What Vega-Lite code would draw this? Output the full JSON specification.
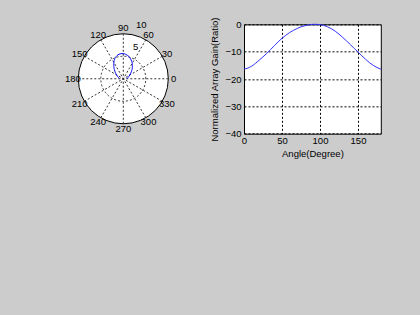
{
  "$schema": "https://vega.github.io/schema/vega-lite/v6.json",
  "background": "#cccccc",
  "padding": {"left": 0, "top": 0, "right": 80, "bottom": 200},
  "autosize": {"type": "pad"},
  "spacing": 30,
  "bounds": "flush",
  "center": true,
  "datasets": {
    "gain": [
      {"a": 0, "g": -16.4, "gx": 0.848, "gy": 0},
      {"a": 5, "g": -16.0, "gx": 0.884, "gy": 0.077},
      {"a": 10, "g": -15.3, "gx": 0.947, "gy": 0.167},
      {"a": 15, "g": -14.3, "gx": 1.043, "gy": 0.279},
      {"a": 20, "g": -13.1, "gx": 1.165, "gy": 0.424},
      {"a": 25, "g": -11.9, "gx": 1.290, "gy": 0.601},
      {"a": 30, "g": -10.6, "gx": 1.431, "gy": 0.826},
      {"a": 35, "g": -9.2, "gx": 1.591, "gy": 1.114},
      {"a": 40, "g": -7.8, "gx": 1.748, "gy": 1.466},
      {"a": 45, "g": -6.4, "gx": 1.895, "gy": 1.895},
      {"a": 50, "g": -5.1, "gx": 2.001, "gy": 2.385},
      {"a": 55, "g": -4.0, "gx": 2.027, "gy": 2.894},
      {"a": 60, "g": -3.0, "gx": 1.982, "gy": 3.433},
      {"a": 65, "g": -2.2, "gx": 1.837, "gy": 3.940},
      {"a": 70, "g": -1.5, "gx": 1.612, "gy": 4.428},
      {"a": 75, "g": -0.9, "gx": 1.307, "gy": 4.877},
      {"a": 80, "g": -0.5, "gx": 0.918, "gy": 5.207},
      {"a": 85, "g": -0.2, "gx": 0.477, "gy": 5.451},
      {"a": 90, "g": 0, "gx": 0, "gy": 5.6},
      {"a": 95, "g": 0, "gx": -0.488, "gy": 5.579},
      {"a": 100, "g": -0.1, "gx": -0.961, "gy": 5.452},
      {"a": 105, "g": -0.4, "gx": -1.384, "gy": 5.166},
      {"a": 110, "g": -0.9, "gx": -1.727, "gy": 4.745},
      {"a": 115, "g": -1.6, "gx": -1.969, "gy": 4.222},
      {"a": 120, "g": -2.5, "gx": -2.100, "gy": 3.637},
      {"a": 125, "g": -3.6, "gx": -2.122, "gy": 3.031},
      {"a": 130, "g": -4.8, "gx": -2.071, "gy": 2.468},
      {"a": 135, "g": -6.1, "gx": -1.962, "gy": 1.962},
      {"a": 140, "g": -7.4, "gx": -1.830, "gy": 1.536},
      {"a": 145, "g": -8.8, "gx": -1.665, "gy": 1.166},
      {"a": 150, "g": -10.1, "gx": -1.516, "gy": 0.875},
      {"a": 155, "g": -11.5, "gx": -1.351, "gy": 0.630},
      {"a": 160, "g": -12.8, "gx": -1.205, "gy": 0.439},
      {"a": 165, "g": -14.0, "gx": -1.079, "gy": 0.289},
      {"a": 170, "g": -15.0, "gx": -0.981, "gy": 0.173},
      {"a": 175, "g": -15.8, "gx": -0.905, "gy": 0.079},
      {"a": 180, "g": -16.4, "gx": -0.848, "gy": 0}
    ],
    "rings": [
      {"r": 5, "t0": 0, "t1": 360},
      {"r": 10, "t0": 0, "t1": 360}
    ],
    "spokes": [
      {"x1": 8.660, "y1": 5, "x2": -8.660, "y2": -5},
      {"x1": 5, "y1": 8.660, "x2": -5, "y2": -8.660},
      {"x1": 0, "y1": 10, "x2": 0, "y2": -10},
      {"x1": -5, "y1": 8.660, "x2": 5, "y2": -8.660},
      {"x1": -8.660, "y1": 5, "x2": 8.660, "y2": -5},
      {"x1": -10, "y1": 0, "x2": 10, "y2": 0}
    ],
    "angles": [
      {"a": 0, "lab": "0"}, {"a": 30, "lab": "30"}, {"a": 60, "lab": "60"},
      {"a": 90, "lab": "90"}, {"a": 120, "lab": "120"}, {"a": 150, "lab": "150"},
      {"a": 180, "lab": "180"}, {"a": 210, "lab": "210"}, {"a": 240, "lab": "240"},
      {"a": 270, "lab": "270"}, {"a": 300, "lab": "300"}, {"a": 330, "lab": "330"}
    ]
  },
  "hconcat": [
    {
      "width": 213.3,
      "height": 157.05,
      "view": {"stroke": null},
      "layer": [
        {
          "data": {"name": "rings"},
          "transform": [{"filter": "datum.r == 10"}],
          "mark": {"type": "arc", "fill": "white", "stroke": "black", "strokeWidth": 1},
          "encoding": {
            "x": {"datum": 0, "type": "quantitative", "scale": {"domain": [-27.4, 20], "nice": false, "zero": false}, "axis": null},
            "y": {"datum": 0, "type": "quantitative", "scale": {"domain": [-17.5, 17.4], "nice": false, "zero": false}, "axis": null},
            "theta": {"field": "t0", "type": "quantitative", "stack": null, "scale": {"type": "linear", "domain": [0, 360], "range": [1.5708, -4.7124], "nice": false, "zero": false}},
            "theta2": {"field": "t1"},
            "radius": {"field": "r", "type": "quantitative", "scale": {"type": "linear", "domain": [0, 10], "range": [0, 45], "nice": false, "zero": true}}
          }
        },
        {
          "data": {"name": "rings"},
          "transform": [{"filter": "datum.r == 5"}],
          "mark": {"type": "arc", "fillOpacity": 0, "stroke": "#333333", "strokeWidth": 1, "strokeDash": [2, 2]},
          "encoding": {
            "x": {"datum": 0, "type": "quantitative", "scale": {"domain": [-27.4, 20], "nice": false, "zero": false}, "axis": null},
            "y": {"datum": 0, "type": "quantitative", "scale": {"domain": [-17.5, 17.4], "nice": false, "zero": false}, "axis": null},
            "theta": {"field": "t0", "type": "quantitative", "stack": null, "scale": {"type": "linear", "domain": [0, 360], "range": [1.5708, -4.7124], "nice": false, "zero": false}},
            "theta2": {"field": "t1"},
            "radius": {"field": "r", "type": "quantitative", "scale": {"type": "linear", "domain": [0, 10], "range": [0, 45], "nice": false, "zero": true}}
          }
        },
        {
          "data": {"name": "spokes"},
          "mark": {"type": "rule", "stroke": "#333333", "strokeWidth": 1, "strokeDash": [2, 2]},
          "encoding": {
            "x": {"field": "x1", "type": "quantitative", "scale": {"domain": [-27.4, 20], "nice": false, "zero": false}, "axis": null},
            "y": {"field": "y1", "type": "quantitative", "scale": {"domain": [-17.5, 17.4], "nice": false, "zero": false}, "axis": null},
            "x2": {"field": "x2"},
            "y2": {"field": "y2"}
          }
        },
        {
          "data": {"name": "gain"},
          "mark": {"type": "line", "stroke": "#0000ff", "strokeWidth": 1, "interpolate": "monotone"},
          "encoding": {
            "x": {"field": "gx", "type": "quantitative", "scale": {"domain": [-27.4, 20], "nice": false, "zero": false}, "axis": null},
            "y": {"field": "gy", "type": "quantitative", "scale": {"domain": [-17.5, 17.4], "nice": false, "zero": false}, "axis": null},
            "order": {"field": "a", "type": "quantitative"}
          }
        },
        {
          "data": {"name": "angles"},
          "mark": {"type": "text", "align": "center", "baseline": "middle", "fontSize": 9.5, "font": "Liberation Sans", "color": "black"},
          "encoding": {
            "x": {"datum": 0, "type": "quantitative", "scale": {"domain": [-27.4, 20], "nice": false, "zero": false}, "axis": null},
            "y": {"datum": 0, "type": "quantitative", "scale": {"domain": [-17.5, 17.4], "nice": false, "zero": false}, "axis": null},
            "theta": {"field": "a", "type": "quantitative", "stack": null, "scale": {"type": "linear", "domain": [0, 360], "range": [1.5708, -4.7124], "nice": false, "zero": false}},
            "radius": {"datum": 11.2, "type": "quantitative", "scale": {"type": "linear", "domain": [0, 10], "range": [0, 45], "nice": false, "zero": true}},
            "text": {"field": "lab", "type": "nominal"}
          }
        },
        {
          "data": {"name": "rings"},
          "mark": {"type": "text", "align": "left", "baseline": "middle", "fontSize": 9.5, "font": "Liberation Sans", "color": "black", "dx": 6.5, "dy": -9.3},
          "encoding": {
            "x": {"datum": 0, "type": "quantitative", "scale": {"domain": [-27.4, 20], "nice": false, "zero": false}, "axis": null},
            "y": {"datum": 0, "type": "quantitative", "scale": {"domain": [-17.5, 17.4], "nice": false, "zero": false}, "axis": null},
            "theta": {"datum": 82, "type": "quantitative", "scale": {"type": "linear", "domain": [0, 360], "range": [1.5708, -4.7124], "nice": false, "zero": false}},
            "radius": {"field": "r", "type": "quantitative", "scale": {"type": "linear", "domain": [0, 10], "range": [0, 45], "nice": false, "zero": true}},
            "text": {"field": "r", "type": "quantitative"}
          }
        }
      ]
    },
    {
      "width": 136.8,
      "height": 109.3,
      "view": {"fill": "white", "stroke": "black", "strokeWidth": 1},
      "data": {"name": "gain"},
      "mark": {"type": "line", "stroke": "#3333ff", "strokeWidth": 1, "interpolate": "monotone"},
      "encoding": {
        "x": {
          "field": "a", "type": "quantitative",
          "scale": {"domain": [0, 180], "nice": false, "zero": false},
          "axis": {"values": [0, 50, 100, 150], "title": "Angle(Degree)", "grid": true, "labelFlush": false}
        },
        "y": {
          "field": "g", "type": "quantitative",
          "scale": {"domain": [-40, 0], "nice": false, "zero": false},
          "axis": {"values": [-40, -30, -20, -10, 0], "title": "Normalized Array Gain(Ratio)", "grid": true, "labelPadding": 3, "titlePadding": 5}
        }
      }
    }
  ],
  "config": {
    "font": "Liberation Sans",
    "axis": {
      "labelFont": "Liberation Sans", "titleFont": "Liberation Sans",
      "labelFontSize": 9.5, "titleFontSize": 9.5, "titleFontWeight": "normal",
      "labelColor": "#000000", "titleColor": "#000000",
      "domain": false, "ticks": false, "labelPadding": 2, "titlePadding": 3,
      "gridColor": "#000000", "gridOpacity": 1, "gridDash": [2, 2], "gridWidth": 1
    }
  }
}
